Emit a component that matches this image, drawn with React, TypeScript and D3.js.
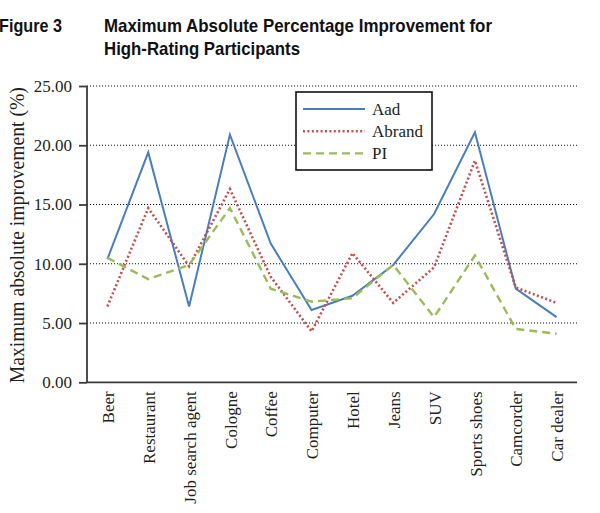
import React, { useRef, useEffect } from 'react';
import { select, scalePoint, scaleLinear, axisLeft, axisBottom, line, format } from 'd3';

const categories = [
    "Beer", "Restaurant", "Job search agent", "Cologne", "Coffee", "Computer",
    "Hotel", "Jeans", "SUV", "Sports shoes", "Camcorder", "Car dealer"
];

const aad = [10.4, 19.4, 6.4, 20.9, 11.7, 6.1, 7.3, 9.9, 14.2, 21.1, 7.9, 5.5];
const abrand = [6.4, 14.7, 9.8, 16.3, 8.9, 4.3, 10.9, 6.7, 9.7, 18.7, 8.0, 6.7];
const pi = [10.5, 8.7, 9.9, 14.7, 7.9, 6.8, 7.1, 9.9, 5.5, 10.7, 4.5, 4.1];

const yTicks = [0, 5, 10, 15, 20, 25];

const seriesNames = ["Aad", "Abrand", "PI"];

const App: React.FC = () => {
    const chartRef = useRef<SVGSVGElement | null>(null);

    useEffect(() => {
        if (!chartRef.current) return;
        const svg = select(chartRef.current);
        svg.selectAll("*").remove();

        const serif = "Liberation Serif, Times New Roman, serif";
        const narrow = "Liberation Sans Narrow, Arial Narrow, Liberation Sans, sans-serif";
        const textColor = "#231f20";
        const axisColor = "#3a3a3a";

        const left = 87, right = 577, top = 86, bottom = 382.3;

        const x = scalePoint<string>().domain(categories).range([left, right]).padding(0.5);
        const y = scaleLinear().domain([0, 25]).range([bottom, top]);

        // Title
        const title = svg.append("g")
            .attr("font-family", narrow)
            .attr("font-weight", "bold")
            .attr("font-size", 19)
            .attr("fill", "#111");
        title.append("text").attr("x", -1).attr("y", 31.7)
            .attr("textLength", 63).attr("lengthAdjust", "spacingAndGlyphs")
            .text("Figure 3");
        title.append("text").attr("x", 104).attr("y", 31.7)
            .attr("textLength", 388).attr("lengthAdjust", "spacingAndGlyphs")
            .text("Maximum Absolute Percentage Improvement for");
        title.append("text").attr("x", 104).attr("y", 55)
            .attr("textLength", 196).attr("lengthAdjust", "spacingAndGlyphs")
            .text("High-Rating Participants");

        // Grid lines
        svg.append("g")
            .selectAll("line")
            .data(yTicks.filter(d => d > 0))
            .join("line")
            .attr("x1", left)
            .attr("x2", right)
            .attr("y1", d => y(d))
            .attr("y2", d => y(d))
            .attr("stroke", "#111")
            .attr("stroke-width", 1.1)
            .attr("stroke-dasharray", "1.1,1.9");

        // Y axis
        svg.append("g")
            .attr("transform", `translate(${left},0)`)
            .call(axisLeft(y).tickValues(yTicks).tickSize(8).tickPadding(7).tickFormat(d => format(".2f")(d as number)))
            .attr("font-family", serif)
            .attr("font-size", 17)
            .call(g => g.select(".domain").attr("stroke", axisColor).attr("stroke-width", 1.8).attr("d", `M0,${top}V${bottom}`))
            .call(g => g.selectAll(".tick line").attr("stroke", axisColor).attr("stroke-width", 1.8))
            .call(g => g.selectAll(".tick text").attr("fill", textColor));

        // X axis
        svg.append("g")
            .attr("transform", `translate(0,${bottom})`)
            .call(axisBottom(x).tickSize(0).tickPadding(0))
            .attr("font-family", serif)
            .attr("font-size", 17)
            .call(g => g.select(".domain").attr("stroke", axisColor).attr("stroke-width", 1.8).attr("d", `M${left},0H${right}`))
            .call(g => g.selectAll(".tick text")
                .attr("fill", textColor)
                .attr("text-anchor", "end")
                .attr("transform", "rotate(-90)")
                .attr("x", -9)
                .attr("y", 0)
                .attr("dy", "0.36em"));

        // Y axis title
        svg.append("text")
            .attr("transform", `translate(24,${(top + bottom) / 2 + 1}) rotate(-90)`)
            .attr("text-anchor", "middle")
            .attr("fill", textColor)
            .attr("font-family", serif)
            .attr("font-size", 20)
            .attr("textLength", 296)
            .attr("lengthAdjust", "spacingAndGlyphs")
            .text("Maximum absolute improvement (%)");

        const styles = [
            { data: aad, color: "#4a7ebb", width: 2, dash: null },
            { data: abrand, color: "#c0504d", width: 2.6, dash: "2,2.4" },
            { data: pi, color: "#9bbb59", width: 2.4, dash: "8,5" },
        ];

        const lineGen = line<number>()
            .x((_, i) => x(categories[i]) as number)
            .y(d => y(d));

        styles.forEach(s => {
            svg.append("path")
                .datum(s.data)
                .attr("fill", "none")
                .attr("stroke", s.color)
                .attr("stroke-width", s.width)
                .attr("stroke-dasharray", s.dash)
                .attr("d", lineGen);
        });

        // Legend
        const legend = svg.append("g")
            .attr("font-family", serif)
            .attr("font-size", 17);
        legend.append("rect")
            .attr("x", 296)
            .attr("y", 92)
            .attr("width", 136)
            .attr("height", 78)
            .attr("fill", "white")
            .attr("stroke", "#111")
            .attr("stroke-width", 1.6);
        seriesNames.forEach((name, i) => {
            const ly = 109 + i * 22.2;
            legend.append("line")
                .attr("x1", 303)
                .attr("x2", 365)
                .attr("y1", ly)
                .attr("y2", ly)
                .attr("stroke", styles[i].color)
                .attr("stroke-width", styles[i].width)
                .attr("stroke-dasharray", styles[i].dash);
            legend.append("text")
                .attr("x", 372)
                .attr("y", ly)
                .attr("dy", "0.35em")
                .attr("fill", textColor)
                .text(name);
        });
    }, []);

    return (
        <svg
            ref={chartRef}
            width={600}
            height={513}
            style={{ position: 'absolute', left: 0, top: 0, background: 'white' }}
        ></svg>
    );
};

export default App;
